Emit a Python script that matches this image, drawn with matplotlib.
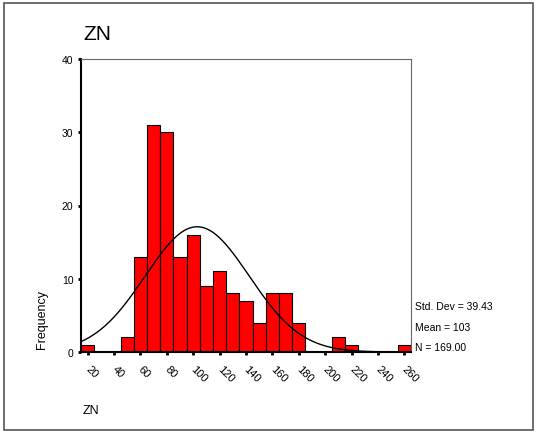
import matplotlib
matplotlib.use("Agg")
import matplotlib.pyplot as plt
import matplotlib.transforms as mtransforms
import numpy as np
from matplotlib.patches import Rectangle

plt.rcParams['font.family'] = ['Liberation Sans', 'DejaVu Sans']

# bin midpoints (width 10) and counts
bin_mids = [20, 30, 40, 50, 60, 70, 80, 90, 100, 110, 120, 130, 140,
            150, 160, 170, 180, 190, 200, 210, 220, 230, 240, 250, 260]
counts = [1, 0, 0, 2, 13, 31, 30, 13, 16, 9, 11, 8, 7,
          4, 8, 8, 4, 0, 0, 2, 1, 0, 0, 0, 1]
bin_width = 10
x_ticks = [20, 40, 60, 80, 100, 120, 140, 160, 180, 200, 220, 240, 260]
y_ticks = [0, 10, 20, 30, 40]

std_dev = 39.43
mean = 103
n = 169.00

W, H = 536, 435
fig = plt.figure(figsize=(W / 100, H / 100), dpi=100)
fig.patches.append(Rectangle((4 / W, 4 / H), 529 / W, 427 / H, transform=fig.transFigure,
                             fill=False, edgecolor='#555555', linewidth=1.2))

ax = fig.add_axes([81 / W, 1 - 353 / H, 330 / W, 293 / H])
ax.bar(bin_mids, counts, width=bin_width, color='#ff0000', edgecolor='black', linewidth=0.8)

# fitted normal curve
xs = np.linspace(15, 265, 400)
ys = n * bin_width * np.exp(-0.5 * ((xs - mean) / std_dev) ** 2) / (std_dev * np.sqrt(2 * np.pi))
ax.plot(xs, ys, color='black', linewidth=1)

ax.set_xlim(15, 265)
ax.set_ylim(0, 40)
ax.set_yticks(y_ticks)
ax.set_yticklabels([str(v) for v in y_ticks], fontsize=7.5)
ax.set_xticks(x_ticks)
ax.set_xticklabels([str(v) for v in x_ticks], fontsize=8, rotation=-45,
                   ha='left', va='top', rotation_mode='anchor')
ax.tick_params(axis='both', length=2.5, width=2, color='black', direction='out', pad=3)
ax.tick_params(axis='x', pad=6)
shift = mtransforms.ScaledTranslation(3 / 100, 0, fig.dpi_scale_trans)
for lbl in ax.get_xticklabels():
    lbl.set_transform(lbl.get_transform() + shift)

for side in ['left', 'bottom']:
    ax.spines[side].set_color('black')
    ax.spines[side].set_linewidth(1.5)
for side in ['top', 'right']:
    ax.spines[side].set_color('#666666')
    ax.spines[side].set_linewidth(0.8)

fig.text(83 / W, 1 - 35 / H, 'ZN', fontsize=15, va='center', ha='left')
fig.text(42 / W, 1 - 320 / H, 'Frequency', fontsize=9, rotation=90, va='center', ha='center')
fig.text(83 / W, 1 - 411 / H, 'ZN', fontsize=9, va='center', ha='left')

fig.text(415 / W, 1 - 307 / H, 'Std. Dev = %.2f' % std_dev, fontsize=7.5, va='center', ha='left')
fig.text(415 / W, 1 - 328 / H, 'Mean = %d' % mean, fontsize=7.5, va='center', ha='left')
fig.text(415 / W, 1 - 348 / H, 'N = %.2f' % n, fontsize=7.5, va='center', ha='left')

fig.savefig('out.png', dpi=100)
